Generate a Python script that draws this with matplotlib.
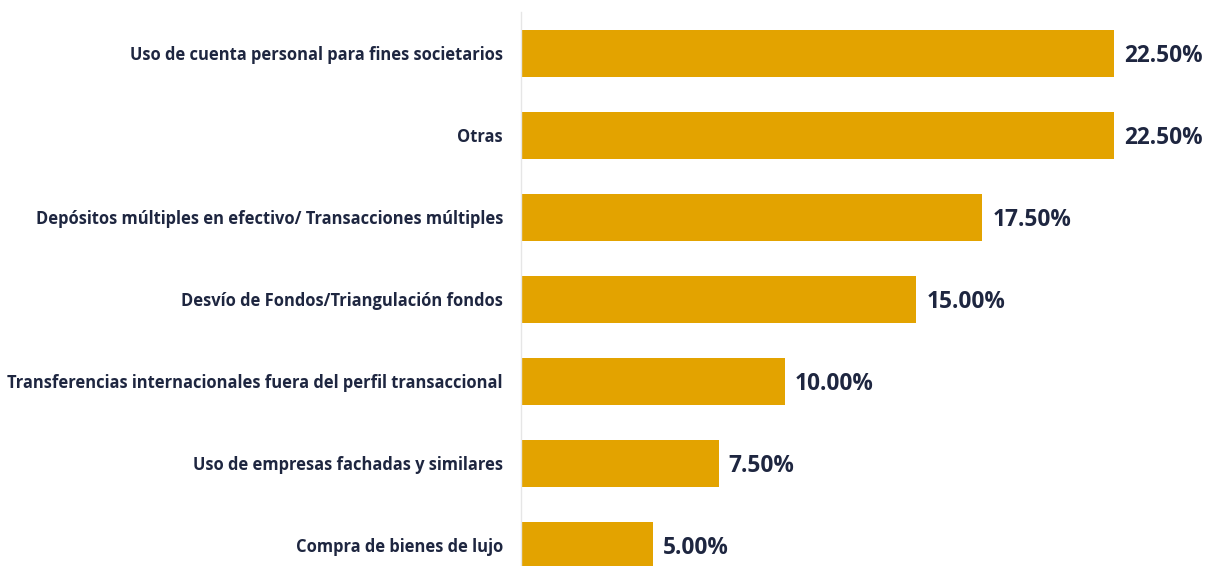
import matplotlib
matplotlib.use("Agg")
import matplotlib.pyplot as plt

# ----------------------------
# Data
# ----------------------------
categories = [
    "Uso de cuenta personal para fines societarios",
    "Otras",
    "Depósitos múltiples en efectivo/ Transacciones múltiples",
    "Desvío de Fondos/Triangulación fondos",
    "Transferencias internacionales fuera del perfil transaccional",
    "Uso de empresas fachadas y similares",
    "Compra de bienes de lujo",
]
values = [22.5, 22.5, 17.5, 15.0, 10.0, 7.5, 5.0]

BAR_COLOR = "#E3A300"
TEXT_COLOR = "#1E2640"

plt.rcParams["font.family"] = ["Open Sans", "DejaVu Sans"]

fig = plt.figure(figsize=(12.12, 5.66), dpi=100)
# axes placed so the y-axis line sits at x=521px, top at y=12px
ax = fig.add_axes([521 / 1212, 0, 691 / 1212, 554 / 566])

y = list(range(len(categories)))
ax.barh(y, values, height=0.575, color=BAR_COLOR)

for yi, val in zip(y, values):
    ax.text(val + 0.38, yi + 0.03, f"{val:.2f}%", va="center", ha="left",
            fontsize=16.3, fontweight="bold", color=TEXT_COLOR)

ax.set_xlim(0, 691 / 26.36)
ax.set_ylim(6.25, -0.506)

ax.set_yticks(y)
ax.set_yticklabels(categories, fontsize=11.9, fontweight="bold", color=TEXT_COLOR)
ax.tick_params(axis="y", length=0, pad=13)
ax.set_xticks([])

for side in ["top", "right", "bottom"]:
    ax.spines[side].set_visible(False)
ax.spines["left"].set_color("#E6E6E6")
ax.spines["left"].set_linewidth(1.0)

plt.savefig("out.png", dpi=100)
plt.close()
